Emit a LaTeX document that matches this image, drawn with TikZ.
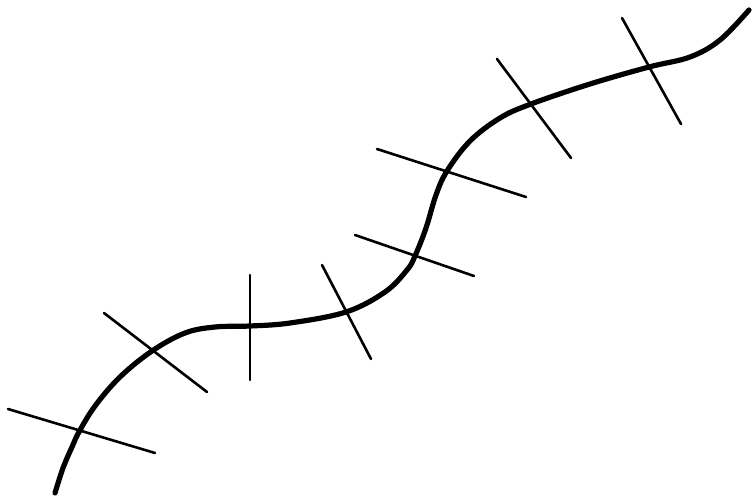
\documentclass[tikz,border=0pt]{standalone}
\begin{document}
\begin{tikzpicture}[x=1pt,y=-1pt,
  curve/.style={line width=5.2pt,line cap=round,line join=round},
  tick/.style={line width=2.6pt,line cap=round}]
\useasboundingbox (0,0) rectangle (752,502);
\fill[white] (0,0) rectangle (752,502);
\draw[curve] plot[smooth,tension=0.6] coordinates {
 (55,493) (63,468) (72,447) (79,432) (95,406) (120,377) (152,351)
 (185,333) (215,327) (250,326) (290,323) (346,312) (385,292)
 (407,270) (415,256) (426,228) (436,195) (447,171) (470,141)
 (500,118) (531,104) (590,84) (649,67) (690,57) (720,40) (749,10)};
\coordinate (a1) at (8,409);   \coordinate (b1) at (155,453);
\coordinate (a2) at (104,313); \coordinate (b2) at (207,392);
\coordinate (a3) at (250,275); \coordinate (b3) at (250,380);
\coordinate (a4) at (322,265); \coordinate (b4) at (371,359);
\coordinate (a5) at (355,235); \coordinate (b5) at (474,276);
\coordinate (a6) at (377,149); \coordinate (b6) at (526,197);
\coordinate (a7) at (497,59);  \coordinate (b7) at (571,158);
\coordinate (a8) at (622,18);  \coordinate (b8) at (681,124);
\foreach \i in {1,...,8} \draw[tick] (a\i) -- (b\i);
\end{tikzpicture}
\end{document}
